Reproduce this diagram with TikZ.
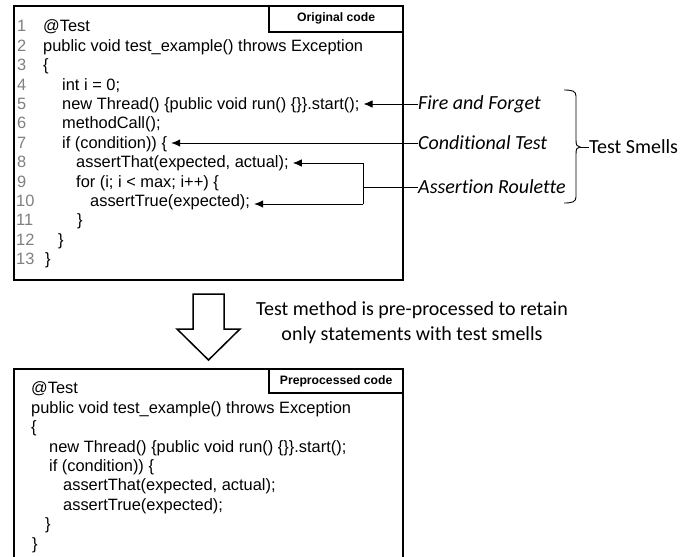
\documentclass[tikz,border=0pt]{standalone}
\usepackage{fontspec}
\setmainfont{Liberation Sans}
\newfontfamily\calfont[RawFeature={-liga;-calt;-clig}]{Carlito}
\usetikzlibrary{arrows.meta}
\definecolor{numgray}{gray}{0.5}
\begin{document}
\begin{tikzpicture}[x=1pt,y=-1pt,
  codebox/.style={draw, line width=1.7pt, inner sep=0pt},
  lblbox/.style={draw, line width=1.4pt, inner sep=0pt, font=\fontsize{12.2}{14}\selectfont\bfseries},
  code/.style={anchor=base west, inner sep=0pt, font=\fontsize{16.4}{19}\selectfont},
  num/.style={code, text=numgray},
  smell/.style={anchor=west, inner sep=0pt, font=\calfont\fontsize{20}{24}\selectfont\itshape},
  note/.style={anchor=base, inner sep=0pt, font=\calfont\fontsize{20}{24}\selectfont},
  arr/.style={line width=0.9pt, -{Latex[length=9pt,width=7.5pt]}, shorten >=4pt},
  conn/.style={line width=0.9pt},
]
\useasboundingbox (0,0) rectangle (699,557);

% ---- original code box
\node[codebox, minimum width=389pt, minimum height=274pt] (orig) at (208.5,143) {};
\node[lblbox, anchor=north east, minimum width=134pt, minimum height=26pt] (origlbl) at (orig.north east) {Original code};

\node[num] (n1) at (17,31.9) {1};
\node[num] (n2) at (17,51.3) {2};
\node[num] (n3) at (17,70.7) {3};
\node[num] (n4) at (17,90.1) {4};
\node[num] (n5) at (17,109.5) {5};
\node[num] (n6) at (17,128.9) {6};
\node[num] (n7) at (17,148.3) {7};
\node[num] (n8) at (17,167.7) {8};
\node[num] (n9) at (17,187.1) {9};
\node[num] (n10) at (16,206.5) {10};
\node[num] (n11) at (16,225.9) {11};
\node[num] (n12) at (16,245.3) {12};
\node[num] (n13) at (16,264.7) {13};

\node[code] (l1) at (43,31.9) {@Test};
\node[code] (l2) at (43,51.3) {public void test\_example() throws Exception};
\node[code] (l3) at (43,70.7) {\{};
\node[code] (l4) at (62,90.1) {int i = 0;};
\node[code] (l5) at (62,109.5) {new Thread() \{public void run() \{\}\}.start();};
\node[code] (l6) at (62,128.9) {methodCall();};
\node[code] (l7) at (62,148.3) {if (condition)) \{};
\node[code] (l8) at (76,167.7) {assertThat(expected, actual);};
\node[code] (l9) at (76,187.1) {for (i; i < max; i++) \{};
\node[code] (l10) at (90,206.5) {assertTrue(expected);};
\node[code] (l11) at (77,225.9) {\}};
\node[code] (l12) at (58,245.3) {\}};
\node[code] (l13) at (45,264.7) {\}};

% ---- smell labels and connectors
\node[smell] (ff) at (418,104) {Fire and Forget};
\node[smell] (ct) at (418,143) {Conditional Test};
\node[smell] (ar) at (418,187) {Assertion Roulette};

\draw[arr] (ff.west) -- (ff.west -| l5.east);
\draw[arr] (ct.west) -- (ct.west -| l7.east);
\coordinate (jt) at (363,163);
\coordinate (jb) at (363,204);
\draw[conn] (jt) -- (jb);
\draw[conn] (ar.west) -- (ar.west -| jt);
\draw[arr] (jt) -- (jt -| l8.east);
\draw[arr] (jb) -- (jb -| l10.east);

% ---- brace
\coordinate (bt) at (580,147);
\draw[line width=0.9pt] (564,90) .. controls (572,90) and (576,91) .. (576,96) -- (576,140)
  .. controls (576,145) and (577,147) .. (bt)
  .. controls (577,147) and (576,149) .. (576,154) -- (576,197)
  .. controls (576,202) and (572,203) .. (564,203);
\node[anchor=west, inner sep=0pt, font=\calfont\fontsize{20}{24}\selectfont] (ts) at (589,147) {Test Smells};
\draw[conn] (bt) -- (ts.west);

% ---- block arrow and note
\draw[line width=1.5pt, line join=miter] (193,294) -- (224,294) -- (224,329) -- (240,329) -- (208.5,360)
  -- (177,329) -- (193,329) -- cycle;
\node[note] (pp1) at (412,315) {Test method is pre-processed to retain};
\node[note] (pp2) at (412,340) {only statements with test smells};

% ---- preprocessed code box
\node[codebox, minimum width=389pt, minimum height=190pt] (prep) at (208.5,464) {};
\node[lblbox, anchor=north east, minimum width=134pt, minimum height=24pt] (preplbl) at (prep.north east) {Preprocessed code};

\node[code] (b1) at (31,393.9) {@Test};
\node[code] (b2) at (31,413.3) {public void test\_example() throws Exception};
\node[code] (b3) at (31,432.7) {\{};
\node[code] (b4) at (49,452.1) {new Thread() \{public void run() \{\}\}.start();};
\node[code] (b5) at (49,471.5) {if (condition)) \{};
\node[code] (b6) at (63,490.9) {assertThat(expected, actual);};
\node[code] (b7) at (63,510.3) {assertTrue(expected);};
\node[code] (b8) at (45,529.7) {\}};
\node[code] (b9) at (32,549.1) {\}};
\end{tikzpicture}
\end{document}
